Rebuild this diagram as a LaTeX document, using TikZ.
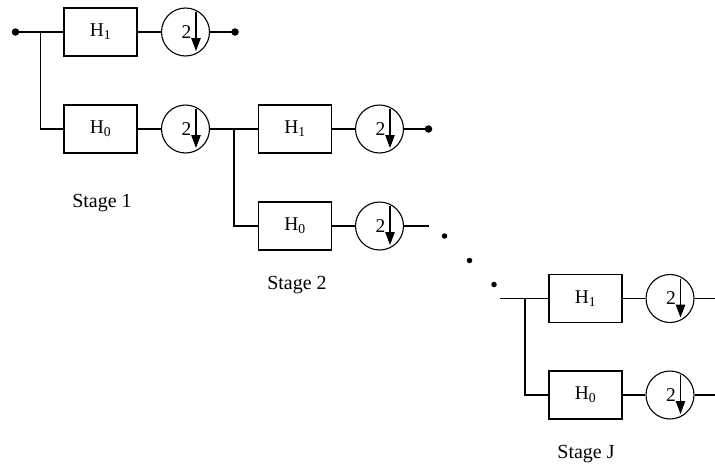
\documentclass[tikz,border=0pt]{standalone}
\usepackage{fontspec}
\setmainfont{Liberation Serif}
\usetikzlibrary{arrows.meta}
\tikzset{
  wire/.style={line width=1.1pt},
  filt/.style={draw, line width=1.1pt, minimum width=73pt, minimum height=48pt,
    inner sep=0pt, font=\fontsize{19.5}{22}\selectfont},
  down/.style={draw, circle, line width=1.1pt, minimum size=48pt, inner sep=0pt,
    font=\fontsize{19.5}{22}\selectfont,
    path picture={\draw[line width=1.1pt, -{Triangle[length=13pt,width=9.5pt]}]
      ([xshift=10.5pt,yshift=-4pt]path picture bounding box.north) --
      ([xshift=10.5pt,yshift=5pt]path picture bounding box.south);}},
  term/.style={circle, fill, inner sep=0pt, minimum size=7.5pt},
  gapdot/.style={circle, fill, inner sep=0pt, minimum size=5.5pt},
  stagelbl/.style={font=\fontsize{20}{24}\selectfont, anchor=base},
}
\begin{document}
\begin{tikzpicture}[x=1pt, y=-1pt]
\useasboundingbox (0,0) rectangle (715,469);

% Stage 1
\node[term] (in) at (15.5,32) {};
\coordinate (j1) at (40.5,32);
\node[filt] (h1a) at (100.5,32) {H\textsubscript{1}};
\node[filt] (h0a) at (100.5,129) {H\textsubscript{0}};
\node[down] (d1a) at (185.5,32) {\kern2pt 2};
\node[down] (d0a) at (185.5,129) {\kern2pt 2};
\node[term] (o1) at (235,32) {};
\draw[wire] (in.center) -- (h1a.west);
\draw[wire] (j1) |- (h0a.west);
\draw[wire] (h1a) -- (d1a);
\draw[wire] (h0a) -- (d0a);
\draw[wire] (d1a) -- (o1.center);
\node[stagelbl] (s1) at (102,207) {Stage 1};

% Stage 2
\coordinate (j2) at (234,129);
\node[filt] (h1b) at (295,129) {H\textsubscript{1}};
\node[filt] (h0b) at (295,226) {H\textsubscript{0}};
\node[down] (d1b) at (379.5,129) {\kern2pt 2};
\node[down] (d0b) at (379.5,226) {\kern2pt 2};
\node[term] (o2) at (428.5,129) {};
\coordinate (e2) at (428.5,226);
\draw[wire] (d0a) -- (h1b.west);
\draw[wire] (j2) |- (h0b.west);
\draw[wire] (h1b) -- (d1b);
\draw[wire] (h0b) -- (d0b);
\draw[wire] (d1b) -- (o2.center);
\draw[wire] (d0b) -- (e2);
\node[stagelbl] (s2) at (297,289.5) {Stage 2};

% intermediate stages
\node[gapdot] (g1) at (444.5,236) {};
\node[gapdot] (g2) at (469.5,260.5) {};
\node[gapdot] (g3) at (494,284.5) {};

% Stage J
\coordinate (sJ) at (500,298.5);
\coordinate (jJ) at (525,298.5);
\node[filt] (h1c) at (585.5,298.5) {H\textsubscript{1}};
\node[filt] (h0c) at (585.5,395) {H\textsubscript{0}};
\node[down] (d1c) at (670,298.5) {\kern2pt 2};
\node[down] (d0c) at (670,395) {\kern2pt 2};
\coordinate (eJ1) at (715,298.5);
\coordinate (eJ0) at (715,395);
\draw[wire] (sJ) -- (h1c.west);
\draw[wire] (jJ) |- (h0c.west);
\draw[wire] (h1c) -- (d1c);
\draw[wire] (h0c) -- (d0c);
\draw[wire] (d1c) -- (eJ1);
\draw[wire] (d0c) -- (eJ0);
\node[stagelbl] (sJl) at (586,458) {Stage J};
\end{tikzpicture}
\end{document}
